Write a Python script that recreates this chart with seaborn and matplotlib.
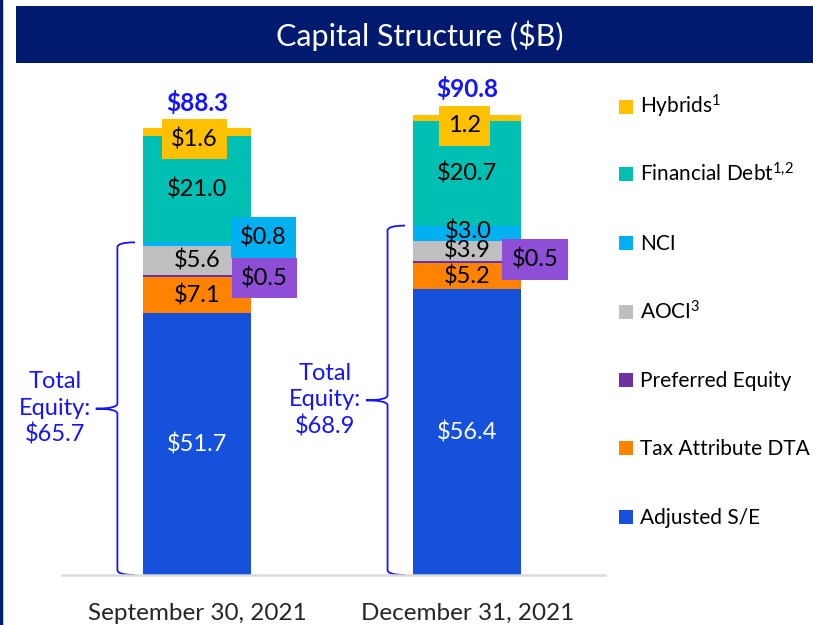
import numpy as np
import pandas as pd
import matplotlib
matplotlib.use('Agg')
import matplotlib.pyplot as plt
from matplotlib.patches import Rectangle, PathPatch
from matplotlib.path import Path
from matplotlib.lines import Line2D
import seaborn as sns

DATES = ['September 30, 2021', 'December 31, 2021']
# bottom -> top
SEGMENTS = ['Adjusted S/E', 'Tax Attribute DTA', 'Preferred Equity', 'AOCI', 'NCI',
            'Financial Debt', 'Hybrids']
VALUES = {
    'Adjusted S/E': [51.7, 56.4],
    'Tax Attribute DTA': [7.1, 5.2],
    'Preferred Equity': [0.5, 0.5],
    'AOCI': [5.6, 3.9],
    'NCI': [0.8, 3.0],
    'Financial Debt': [21.0, 20.7],
    'Hybrids': [1.6, 1.2],
}
LABELS = {
    'Adjusted S/E': ['$51.7', '$56.4'],
    'Tax Attribute DTA': ['$7.1', '$5.2'],
    'Preferred Equity': ['$0.5', '$0.5'],
    'AOCI': ['$5.6', '$3.9'],
    'NCI': ['$0.8', '$3.0'],
    'Financial Debt': ['$21.0', '$20.7'],
    'Hybrids': ['$1.6', '1.2'],
}
TOTALS = ['$88.3', '$90.8']
TOTAL_EQUITY = ['$65.7', '$68.9']
LEGEND_NAMES = ['Hybrids$^{1}$', r'Financial Debt$^{1,\!2}$', 'NCI', 'AOCI$^{3}$',
                'Preferred Equity', 'Tax Attribute DTA', 'Adjusted S/E']

COLORS = {
    'Adjusted S/E': '#1651DC',
    'Tax Attribute DTA': '#FF8300',
    'Preferred Equity': '#7030A0',
    'AOCI': '#BFBFBF',
    'NCI': '#00B0F0',
    'Financial Debt': '#00BFB3',
    'Hybrids': '#FFC000',
}
NAVY = '#001A70'
BLUE = '#1414FF'
PURPLE_BOX = '#8E4FD6'

sns.set_style('white')
plt.rcParams['font.family'] = ['Lato', 'DejaVu Sans']
plt.rcParams['mathtext.fontset'] = 'custom'
plt.rcParams['mathtext.rm'] = 'Lato'
plt.rcParams['mathtext.default'] = 'rm'

W, H = 813, 625
fig = plt.figure(figsize=(W / 100, H / 100), dpi=100)
ax = fig.add_axes([62 / W, 50 / H, 543 / W, 476 / H])

df = pd.DataFrame(VALUES, index=DATES)
cum = df[SEGMENTS].cumsum(axis=1)

# stacked bars: draw cumulative totals from the top layer down
for seg in reversed(SEGMENTS):
    sns.barplot(x=DATES, y=cum[seg].values, color=COLORS[seg], saturation=1,
                width=0.4, linewidth=0, ax=ax, order=DATES)

ax.set_xlim(-0.5, 1.51)
ax.set_ylim(0, 94)
ax.set_yticks([])
for s in ['top', 'right', 'left']:
    ax.spines[s].set_visible(False)
ax.spines['bottom'].set_color('#D9D9D9')
ax.spines['bottom'].set_linewidth(1.8)
ax.tick_params(axis='x', length=0, pad=20, labelsize=17.5)
ax.set_xlabel('')

FS = 17
lab_kw = dict(ha='center', va='center', fontsize=FS)
box_pad = 'square,pad=0.4'
for i in range(len(DATES)):
    base = cum[SEGMENTS].iloc[i] - df[SEGMENTS].iloc[i]
    mid = base + df[SEGMENTS].iloc[i] / 2
    ax.text(i, mid['Adjusted S/E'], LABELS['Adjusted S/E'][i], color='white', **lab_kw)
    ax.text(i, mid['Tax Attribute DTA'], LABELS['Tax Attribute DTA'][i], color='black', **lab_kw)
    ax.text(i, mid['AOCI'], LABELS['AOCI'][i], color='black', **lab_kw)
    ax.text(i, mid['Financial Debt'], LABELS['Financial Debt'][i], color='black', **lab_kw)
    # hybrids label in a yellow box overlapping the top
    ax.text(i - 0.01, cum['Hybrids'].iloc[i] - 2.2, LABELS['Hybrids'][i], color='black',
            bbox=dict(boxstyle=box_pad, fc=COLORS['Hybrids'], ec='none'), **lab_kw)
    # preferred equity call-out box
    ax.text(i + 0.25, mid['Preferred Equity'] + (-0.4 if i == 0 else 0.4),
            LABELS['Preferred Equity'][i], color='black',
            bbox=dict(boxstyle=box_pad, fc=PURPLE_BOX, ec='none'), **lab_kw)
    # totals
    ax.text(i, cum['Hybrids'].iloc[i] + 5.0, TOTALS[i], color=BLUE, fontweight='bold',
            ha='center', va='center', fontsize=17.5)

# NCI labels
ax.text(0.245, 66.7, LABELS['NCI'][0], color='black',
        bbox=dict(boxstyle=box_pad, fc=COLORS['NCI'], ec='none'), **lab_kw)
ax.text(1.005, cum['NCI'].iloc[1] - df['NCI'].iloc[1] / 2 + 0.3, LABELS['NCI'][1],
        color='black', **lab_kw)


def brace(ax, xc, top, color):
    x_end, x_sp, x_tip = xc - 0.23, xc - 0.295, xc - 0.375
    ym = top / 2
    r = 1.0
    verts = [(x_end, top), (x_sp, top), (x_sp, top - r),
             (x_sp, ym + r),
             (x_sp, ym), (x_tip, ym),
             (x_sp, ym), (x_sp, ym - r),
             (x_sp, r),
             (x_sp, 0), (x_end, 0)]
    codes = [Path.MOVETO, Path.CURVE3, Path.CURVE3, Path.LINETO, Path.CURVE3, Path.CURVE3,
             Path.CURVE3, Path.CURVE3, Path.LINETO, Path.CURVE3, Path.CURVE3]
    ax.add_patch(PathPatch(Path(verts, codes), fc='none', ec=color, lw=1.3, clip_on=False))


for i in range(len(DATES)):
    eq_top = cum['NCI'].iloc[i]
    brace(ax, i, eq_top, BLUE)
    ax.text(i - 0.525, eq_top / 2, 'Total\nEquity:\n' + TOTAL_EQUITY[i], color=BLUE,
            ha='center', va='center', fontsize=17, linespacing=1.3)

# banner
fig.add_artist(Rectangle((16 / W, 1 - 63 / H), 797 / W, 57 / H, transform=fig.transFigure,
                         fc=NAVY, ec='none'))
fig.text(420 / W, 1 - 36 / H, 'Capital Structure ($B)', color='white', ha='center',
         va='center', fontsize=22)
fig.add_artist(Line2D([1 / W, 1 / W], [0, 1], transform=fig.transFigure, color=NAVY, lw=2.5))

# legend
leg_y = [107, 174, 243, 312, 380, 448, 517]
for name, seg, y in zip(LEGEND_NAMES, reversed(SEGMENTS), leg_y):
    fig.add_artist(Rectangle((619 / W, 1 - (y + 7) / H), 14 / W, 14 / H,
                             transform=fig.transFigure, fc=COLORS[seg], ec='none'))
    fig.text(640 / W, 1 - (y + 7) / H, name, color='black', ha='left', va='baseline',
             fontsize=15)

fig.savefig('out.png', dpi=100)
